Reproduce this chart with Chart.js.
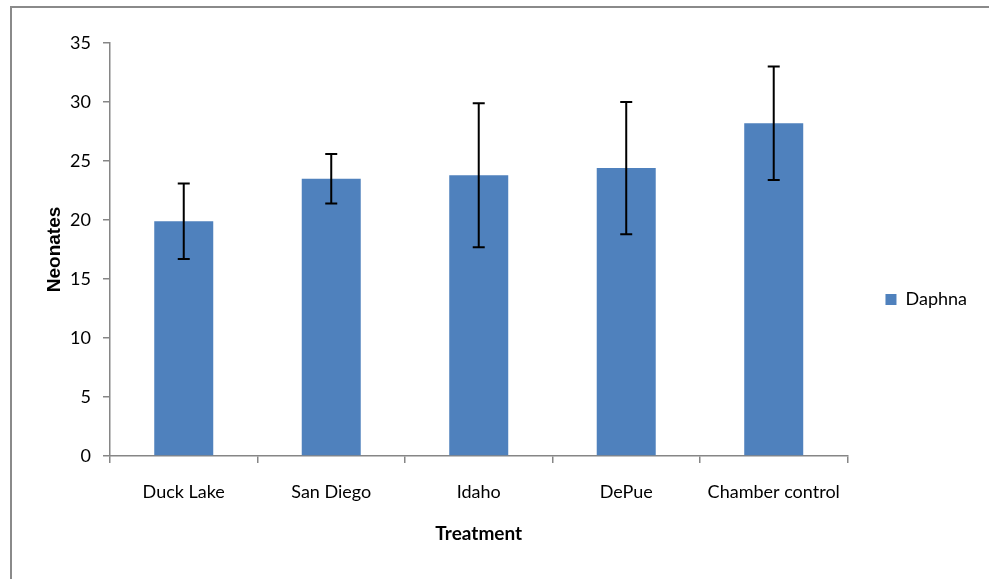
<!DOCTYPE html>
<html>
<head>
<meta charset="utf-8">
<script src="https://cdn.jsdelivr.net/npm/chart.js@4"></script>
<style>
  html, body { margin: 0; padding: 0; background: #fff; overflow: hidden; }
  #frame {
    position: absolute; left: 10px; top: 6px; width: 1000px; height: 600px;
    border: 2px solid #8a8a8a; box-sizing: border-box;
  }
  #wrap { position: absolute; left: 0; top: 0; width: 989px; height: 579px; }
</style>
</head>
<body>
<div id="frame"></div>
<div id="wrap"><canvas id="myChart"></canvas></div>
<script>
const treatments = ['Duck Lake', 'San Diego', 'Idaho', 'DePue', 'Chamber control'];
const neonates = [19.9, 23.5, 23.8, 24.4, 28.2];
const errors = [3.2, 2.1, 6.1, 5.6, 4.8];
const yTicks = [0, 5, 10, 15, 20, 25, 30, 35];

const errorBars = {
  id: 'errorBars',
  afterDatasetsDraw(chart) {
    const c = chart.ctx;
    const y = chart.scales.y;
    const meta = chart.getDatasetMeta(0);
    c.save();
    c.strokeStyle = '#000';
    c.lineWidth = 2;
    meta.data.forEach((bar, i) => {
      const hi = y.getPixelForValue(neonates[i] + errors[i]);
      const lo = y.getPixelForValue(neonates[i] - errors[i]);
      c.beginPath();
      c.moveTo(bar.x, hi); c.lineTo(bar.x, lo);
      c.moveTo(bar.x - 6, hi); c.lineTo(bar.x + 6, hi);
      c.moveTo(bar.x - 6, lo); c.lineTo(bar.x + 6, lo);
      c.stroke();
    });
    c.restore();
  }
};

const ctx = document.getElementById('myChart');
Chart.defaults.font.family = 'Lato, "Open Sans", sans-serif';
Chart.defaults.color = '#000';

new Chart(ctx, {
  type: 'bar',
  data: {
    labels: treatments,
    datasets: [{
      label: 'Daphna',
      data: neonates,
      backgroundColor: '#4F81BD',
      borderWidth: 0,
      barPercentage: 0.4,
      categoryPercentage: 1
    }]
  },
  options: {
    responsive: true,
    maintainAspectRatio: false,
    animation: false,
    layout: { padding: { left: 0, top: 43, right: 12, bottom: 23 } },
    scales: {
      y: {
        min: 0, max: 35,
        afterBuildTicks: (s) => { s.ticks = yTicks.map(v => ({ value: v })); },
        afterFit: (s) => { s.width = 110; },
        border: { display: true, color: '#868686', width: 1.5 },
        grid: { drawOnChartArea: false, drawTicks: true, tickLength: 7, color: '#868686', lineWidth: 1.5 },
        ticks: { font: { size: 18 }, padding: 12 },
        title: {
          display: true, text: 'Neonates',
          font: { family: '"Liberation Sans", Arial, sans-serif', size: 19, weight: 'bold' },
          padding: { top: 43, bottom: 0 }
        }
      },
      x: {
        afterFit: (s) => { s.height = 100; },
        border: { display: true, color: '#868686', width: 1.5 },
        grid: { offset: true, drawOnChartArea: false, drawTicks: true, tickLength: 7, color: '#868686', lineWidth: 1.5 },
        ticks: { font: { size: 18 }, padding: 18 },
        title: { display: true, text: 'Treatment', font: { size: 19, weight: 'bold' }, padding: { top: 3, bottom: 11 } }
      }
    },
    plugins: {
      legend: {
        position: 'right',
        labels: { boxWidth: 11, boxHeight: 11, font: { size: 18 }, padding: 38 }
      },
      tooltip: { enabled: false }
    }
  },
  plugins: [errorBars]
});
</script>
</body>
</html>
